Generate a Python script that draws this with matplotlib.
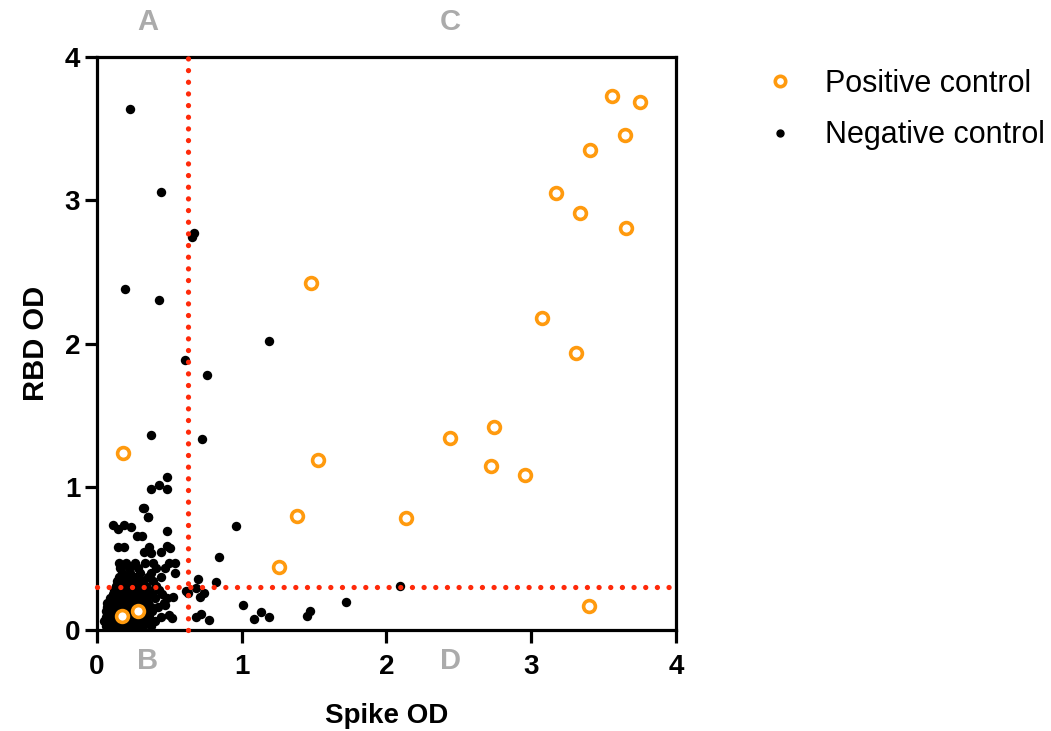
import matplotlib
matplotlib.use("Agg")
import matplotlib.pyplot as plt
from matplotlib.lines import Line2D

# ---------------- data ----------------
pos_x = [3.558, 3.751, 3.648, 3.406, 3.171, 3.337, 3.655, 1.478, 3.074, 3.309,
         0.177, 2.439, 2.743, 1.527, 2.722, 2.957, 1.382, 2.135, 1.255, 3.399,
         0.173, 0.283]
pos_y = [3.728, 3.686, 3.455, 3.351, 3.051, 2.911, 2.806, 2.422, 2.178, 1.934,
         1.238, 1.340, 1.417, 1.187, 1.145, 1.082, 0.796, 0.782, 0.438, 0.168,
         0.098, 0.133]

# outlying negative controls
neg_out_x = [0.226, 0.442, 0.672, 0.654, 0.196, 0.428, 1.190, 0.606, 0.758,
             0.370, 0.725, 0.481, 0.373, 0.431, 0.481, 0.322, 0.349, 0.320, 0.352,
             0.113, 0.147, 0.184, 0.233, 0.481, 0.960, 0.276, 0.309,
             0.147, 0.184, 0.361, 0.504, 0.486, 0.845, 0.327, 0.373, 0.440,
             0.541, 0.541, 0.700, 0.820, 0.613, 0.631, 0.681, 0.711, 0.740,
             1.011, 1.087, 1.130, 1.190, 0.684, 0.716, 0.774, 1.451, 1.473,
             1.718, 2.095, 0.527, 0.481, 0.470, 0.497, 0.520]
neg_out_y = [3.639, 3.055, 2.774, 2.741, 2.380, 2.306, 2.020, 1.885, 1.780,
             1.364, 1.331, 1.066, 0.987, 1.012, 0.984, 0.854, 0.791, 0.849, 0.787,
             0.733, 0.703, 0.733, 0.721, 0.689, 0.724, 0.659, 0.659,
             0.582, 0.582, 0.582, 0.575, 0.589, 0.510, 0.547, 0.535, 0.545,
             0.468, 0.398, 0.356, 0.338, 0.272, 0.256, 0.293, 0.233, 0.256,
             0.177, 0.079, 0.123, 0.093, 0.089, 0.112, 0.070, 0.098, 0.135,
             0.193, 0.305, 0.233, 0.221, 0.175, 0.105, 0.082]

# dense cluster of negative controls near the origin
neg_clu_x = [0.06, 0.09, 0.12, 0.16, 0.20, 0.24, 0.28, 0.32, 0.37,
             0.05, 0.08, 0.10, 0.14, 0.18, 0.22, 0.26, 0.30, 0.34, 0.40,
             0.06, 0.09, 0.11, 0.15, 0.19, 0.23, 0.27, 0.31, 0.36, 0.44,
             0.06, 0.09, 0.13, 0.17, 0.21, 0.25, 0.29, 0.33, 0.38,
             0.07, 0.10, 0.12, 0.16, 0.20, 0.24, 0.28, 0.32, 0.37, 0.42,
             0.07, 0.10, 0.14, 0.18, 0.22, 0.26, 0.30, 0.35, 0.46,
             0.09, 0.13, 0.17, 0.21, 0.25, 0.29, 0.34, 0.40,
             0.11, 0.15, 0.19, 0.23, 0.27, 0.32, 0.38, 0.45,
             0.12, 0.16, 0.20, 0.24, 0.30, 0.36, 0.43,
             0.13, 0.18, 0.22, 0.28, 0.34, 0.41,
             0.14, 0.19, 0.25, 0.31, 0.39,
             0.15, 0.21, 0.27, 0.35, 0.44,
             0.17, 0.23, 0.30, 0.37,
             0.16, 0.22, 0.28, 0.41, 0.47,
             0.15, 0.20, 0.26, 0.33, 0.39, 0.50]
neg_clu_y = [0.03] * 9 + [0.06] * 10 + [0.09] * 10 + [0.13] * 9 + [0.16] * 10 + \
            [0.19] * 9 + [0.22] * 8 + [0.25] * 8 + [0.28] * 7 + [0.31] * 6 + \
            [0.34] * 5 + [0.37] * 5 + [0.40] * 4 + [0.43] * 5 + [0.47] * 6

x_cut = 0.63
y_cut = 0.30
ticks = [0, 1, 2, 3, 4]
quadrant_labels = ["A", "B", "C", "D"]
legend_labels = ["Positive control", "Negative control"]

# ---------------- figure ----------------
W, H = 1051, 731
fig = plt.figure(figsize=(W / 100, H / 100), dpi=100)
ax = fig.add_axes([97 / W, 1 - 630 / H, (676 - 97) / W, (630 - 57) / H])

BOLD = ["Liberation Sans", "DejaVu Sans"]
NARROW = ["Liberation Sans Narrow", "Liberation Sans", "DejaVu Sans"]
ORANGE = "#FF9A0E"
RED = "#FF2A0A"

ax.scatter(neg_clu_x + neg_out_x, neg_clu_y + neg_out_y, s=46, c="black",
           linewidths=0, zorder=2)
ax.plot(pos_x, pos_y, "o", ms=8.5, mfc="white", mec=ORANGE, mew=2.6,
        ls="none", zorder=4)

for xs, ys in (([x_cut, x_cut], [0, 4]), ([0, 4], [y_cut, y_cut])):
    ax.plot(xs, ys, color=RED, lw=3.8, ls=(0, (0.01, 2.2)),
            dash_capstyle="round", zorder=3, clip_on=False)

ax.set_xlim(0, 4)
ax.set_ylim(0, 4)
ax.set_xticks(ticks)
ax.set_yticks(ticks)
ax.set_xticklabels([str(t) for t in ticks], fontsize=20, fontweight="bold", family=NARROW)
ax.set_yticklabels([str(t) for t in ticks], fontsize=20, fontweight="bold", family=NARROW)
for s in ax.spines.values():
    s.set_linewidth(2.3)
ax.tick_params(direction="out", length=9, width=2.3)
ax.tick_params(axis="x", pad=8)
ax.tick_params(axis="y", pad=3)

ax.set_xlabel("Spike OD", fontsize=20, fontweight="bold", family=BOLD, labelpad=17)
ax.set_ylabel("RBD OD", fontsize=21, fontweight="bold", family=BOLD, labelpad=11)

grey = "#ABABAB"
for lab, (px, py) in zip(quadrant_labels, [(148, 22), (148, 661), (450, 22), (450, 661)]):
    fig.text(px / W, 1 - py / H, lab, color=grey, fontsize=21, fontweight="bold",
             family=NARROW, ha="center", va="center")

# legend drawn in figure coordinates
fig.add_artist(Line2D([780 / W], [1 - 81 / H], marker="o", ls="none", ms=7.5,
                      mfc="white", mec=ORANGE, mew=2.6, transform=fig.transFigure))
fig.add_artist(Line2D([780 / W], [1 - 133 / H], marker="o", ls="none", ms=5,
                      mfc="black", mec="black", transform=fig.transFigure))
fig.text(825 / W, 1 - 92 / H, legend_labels[0], fontsize=22, family=BOLD, va="baseline")
fig.text(825 / W, 1 - 143 / H, legend_labels[1], fontsize=22, family=BOLD, va="baseline")

fig.savefig("out.png", dpi=100)
